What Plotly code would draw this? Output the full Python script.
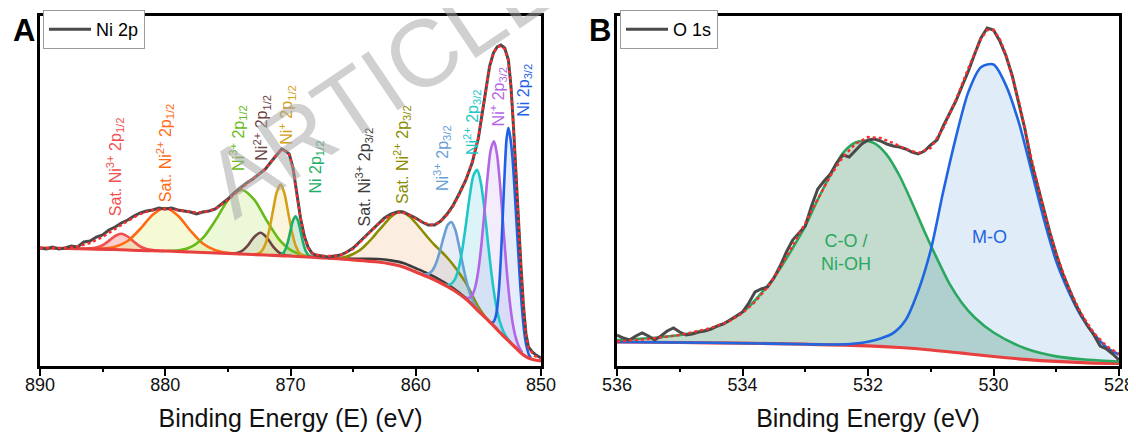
import numpy as np
import plotly.graph_objects as go

FONT = "Arial, 'Liberation Sans', Helvetica, sans-serif"

# ---------------- Panel A : Ni 2p (binding energy eV, intensity a.u.) ----------------
ni_bg_e = [890, 888, 886, 884, 882, 880, 878, 876, 874, 872, 870, 868, 866, 864, 863, 862, 861,
           860, 859, 858, 857, 856, 855, 854, 853, 852.5, 852, 851.5, 851, 850.5, 850]
ni_bg_i = [118, 117.5, 117, 116.5, 115.5, 115, 114, 113, 112, 111, 110, 108.5, 107, 105, 104, 102, 99,
           94, 89, 83, 76, 67, 55, 43, 30, 24, 18, 12, 8, 6, 5]

ni_data_e = [890, 889.5, 889, 888.5, 888, 887.5, 887, 886.5, 886, 885.5, 885, 884.5, 884, 883.5, 883,
             882.5, 882, 881.5, 881, 880.5, 880, 879.5, 879, 878.5, 878, 877.5, 877, 876.5, 876, 875.5,
             875, 874.5, 874, 873.5, 873, 872.5, 872, 871.5, 871, 870.7, 870.4, 870.1, 869.8, 869.5,
             869.2, 868.9, 868.6, 868.3, 868, 867.5, 867, 866.5, 866, 865.5, 865, 864.5, 864, 863.5,
             863, 862.5, 862, 861.5, 861, 860.5, 860, 859.5, 859, 858.5, 858, 857.5, 857, 856.5, 856,
             855.5, 855, 854.7, 854.4, 854.1, 853.8, 853.5, 853.2, 852.9, 852.6, 852.4, 852.2, 852.0,
             851.8, 851.6, 851.4, 851.2, 851.0, 850.7, 850.4, 850]
ni_data_i = [118, 117, 119, 117, 118, 120, 119, 124, 125, 129, 131, 136, 139, 143, 146,
             150, 153, 155, 156, 158, 157, 158, 156, 155, 154, 152, 154, 155, 157, 162,
             167, 173, 178, 183, 187, 192, 197, 205, 213, 217, 215, 212, 198, 172,
             148, 130, 119, 113, 111, 110, 109, 110, 111, 114, 118, 124, 130, 136,
             143, 148, 152, 154, 154, 151, 148, 144, 141, 141, 145, 152, 161, 173, 186,
             203, 228, 252, 277, 300, 313, 319, 321, 318, 306, 280, 240, 190,
             148, 100, 60, 32, 19, 14, 11, 8]

ni_fit_e = [890, 888, 887, 886, 885, 884, 883, 882, 881, 880, 879, 878, 877, 876, 875, 874, 873, 872,
            871.5, 871, 870.7, 870.4, 870.1, 869.8, 869.5, 869.2, 868.9, 868.6, 868.2, 867.5, 866.5,
            866, 865, 864, 863, 862, 861.2, 860.5, 859.5, 858.8, 858.2, 857.5, 857, 856.5, 856,
            855.5, 855, 854.7, 854.4, 854.1, 853.8, 853.5, 853.2, 852.9, 852.6, 852.4, 852.2, 852.0,
            851.8, 851.6, 851.4, 851.2, 851.0, 850.5, 850]
ni_fit_i = [118, 118, 119.5, 123, 129, 137, 145, 152, 156, 157, 156, 154, 153.5, 157, 166, 177, 187, 197,
            205, 213, 216, 215, 211, 198, 172, 148, 130, 118, 112, 110, 110,
            111, 117, 129, 142, 151, 154, 151, 144, 141, 143, 151, 160, 172, 186,
            204, 228, 252, 277, 299, 313, 319, 320, 317, 305, 280, 240, 190,
            145, 98, 58, 32, 18, 10, 7]

# fitted components: energies and heights above the background
sat3_12_e = [887, 886, 885.5, 885, 884.5, 884, 883.5, 883, 882.5, 882, 881.5, 881, 880]
sat3_12_h = [0, 0.6, 1.6, 4, 8.5, 13.5, 16, 13.5, 8.5, 4, 1.6, 0.6, 0]
sat2_12_e = [886, 885, 884, 883, 882, 881, 880, 879, 878, 877, 876, 875, 874]
sat2_12_h = [0, 0.6, 2.7, 9, 21.5, 36, 43, 36, 21.5, 9, 2.7, 0.6, 0]
ni3_12_e = [879.9, 878.9, 877.9, 876.9, 875.9, 874.9, 873.9, 872.9, 871.9, 870.9, 869.9, 868.9, 867.9]
ni3_12_h = [0.3, 1.3, 5.4, 16, 34.5, 55, 64, 55, 34.5, 16, 5.4, 1.3, 0.3]
ni2_12_e = [874.9, 874.4, 873.9, 873.4, 872.9, 872.4, 871.9, 871.4, 870.9, 870.4, 869.9]
ni2_12_h = [0, 0.6, 3, 9, 17.6, 22, 17.6, 9, 3, 0.6, 0]
ni1_12_e = [872.9, 872.6, 872.3, 872.0, 871.7, 871.4, 871.1, 870.8, 870.5, 870.2, 869.9, 869.6, 869.3, 869.0, 868.7]
ni1_12_h = [0.2, 1, 3.8, 11, 25, 44.5, 63, 71, 63, 44.5, 25, 11, 3.8, 1, 0.2]
ni0_12_e = [871.0, 870.8, 870.6, 870.4, 870.2, 870.0, 869.8, 869.6, 869.4, 869.2, 869.0, 868.8, 868.6, 868.4, 868.2]
ni0_12_h = [0.2, 0.7, 2.4, 6.5, 14.4, 25.4, 35.7, 40, 35.7, 25.4, 14.4, 6.5, 2.4, 0.7, 0.2]
sat3_32_e = [867, 866, 865, 864, 863, 862, 861, 860, 859, 858, 857, 856, 855]
sat3_32_h = [0, 0.6, 1.3, 2.2, 3, 3.6, 4, 3.8, 3.3, 2.6, 1.8, 0.9, 0]
sat2_32_e = [866.5, 866, 865.5, 865, 864.5, 864, 863.5, 863, 862.5, 862, 861.5, 861.2, 860.5, 860, 859.5,
             859, 858.5, 858, 857.5, 857, 856.5, 856, 855.5, 855, 854.5, 854]
sat2_32_h = [0, 1, 3, 6, 10, 16, 23, 31, 39, 47, 53, 55, 53, 49, 44,
             39, 35, 32, 29, 25, 21, 16, 10, 4, 1, 0]
ni3_32_e = [859.55, 859.25, 858.95, 858.65, 858.35, 858.05, 857.75, 857.45, 857.15, 856.85, 856.55,
            856.25, 855.95, 855.65, 855.35, 855.05, 854.75]
ni3_32_h = [0.4, 1.3, 3.8, 9, 18.6, 32.6, 48.6, 61.8, 67, 61.8, 48.6, 32.6, 18.6, 9, 3.8, 1.3, 0.4]
ni2_32_e = [857.8, 857.5, 857.2, 856.9, 856.6, 856.3, 856.0, 855.7, 855.4, 855.1, 854.8, 854.5, 854.2,
            853.9, 853.6, 853.3, 853.0, 852.7, 852.4]
ni2_32_h = [0.4, 1.5, 4.5, 11, 24, 45.5, 74, 105.7, 130.5, 140, 130.5, 105.7, 74, 45.5, 24, 11, 4.5, 1.5, 0.4]
ni1_32_e = [856.0, 855.75, 855.5, 855.25, 855.0, 854.75, 854.5, 854.25, 854.0, 853.75, 853.5, 853.25,
            853.0, 852.75, 852.5, 852.25, 852.0, 851.75, 851.5]
ni1_32_h = [1.4, 3.9, 9.6, 21, 41, 70.5, 107.5, 145.4, 174, 185, 174, 145.4, 107.5, 70.5, 41, 21, 9.6, 3.9, 1.4]
ni0_32_e = [853.95, 853.8, 853.65, 853.5, 853.35, 853.2, 853.05, 852.9, 852.75, 852.6, 852.45, 852.3,
            852.15, 852.0, 851.85, 851.7, 851.55, 851.4, 851.25, 851.1, 850.95, 850.8]
ni0_32_h = [1.3, 3.6, 9.4, 21.3, 43.2, 76.7, 120, 165, 200, 213, 205, 190,
            165, 135, 105, 75, 50, 30, 16, 8, 3, 1]

# ---------------- Panel B : O 1s ----------------
o_bg_e = [536, 535, 534, 533, 532, 531.5, 531, 530.5, 530, 529.5, 529, 528.5, 528]
o_bg_i = [24, 23.5, 22.8, 21.8, 20.2, 18.5, 16, 12.8, 9.5, 6.7, 4.6, 3.2, 2.5]

o_data_e = [536.0, 535.9, 535.8, 535.7, 535.6, 535.5, 535.4, 535.3, 535.2, 535.1, 535.0, 534.9, 534.8,
            534.7, 534.6, 534.5, 534.4, 534.3, 534.2, 534.1, 534.0, 533.9, 533.8, 533.7, 533.6, 533.5,
            533.4, 533.3, 533.2, 533.1, 533.0, 532.9, 532.8, 532.7, 532.6, 532.5, 532.4, 532.3, 532.2,
            532.1, 532.0, 531.9, 531.8, 531.7, 531.6, 531.5, 531.4, 531.3, 531.2, 531.1, 531.0, 530.9,
            530.8, 530.7, 530.6, 530.5, 530.4, 530.3, 530.2, 530.1, 530.0, 529.9, 529.8, 529.7, 529.6,
            529.5, 529.4, 529.3, 529.2, 529.1, 529.0, 528.9, 528.8, 528.7, 528.6, 528.5, 528.4, 528.3,
            528.2, 528.1, 528.0]
o_data_i = [31, 28, 26, 30, 33, 30, 26, 30, 35, 38, 34, 31, 32,
            34, 35, 37, 40, 42, 46, 50, 54, 63, 74, 77, 79, 88,
            100, 114, 126, 133, 140, 160, 177, 185, 192, 203, 211, 209, 216,
            222, 226, 227, 225, 222, 220, 219, 217, 214, 212, 215, 221, 226,
            240, 253, 265, 280, 295, 312, 328, 338, 336, 325, 310, 290, 265,
            237, 205, 180, 157, 133, 112, 93, 78, 63, 51, 40, 31, 20,
            17, 12, 6]

o_fit_e = [536, 535.5, 535, 534.5, 534.2, 534.0, 533.8, 533.6, 533.4, 533.2, 533.0, 532.8, 532.6, 532.4,
           532.2, 532.0, 531.8, 531.6, 531.4, 531.2, 531.0, 530.8, 530.6, 530.4, 530.2, 530.1, 530.0,
           529.9, 529.8, 529.6, 529.4, 529.2, 529.0, 528.8, 528.6, 528.4, 528.2, 528.0]
o_fit_i = [24.5, 27, 31, 38, 45, 53, 64, 79, 98, 120, 143, 167, 190, 209,
           222, 229, 228, 223, 217, 213, 218, 238, 266, 298, 327, 336, 336,
           327, 311, 266, 209, 156, 112, 78, 52, 33, 20, 12]

o_oh_e = [536, 535.5, 535, 534.5, 534, 533.5, 533.2, 533, 532.8, 532.6, 532.4, 532.2, 532.05, 531.9,
          531.7, 531.5, 531.3, 531.1, 530.9, 530.7, 530.5, 530.3, 530, 529.5, 529, 528.5, 528]
o_oh_h = [2, 4, 7.5, 14, 31, 66, 96, 118, 145, 170, 192, 203, 205, 203,
          192, 172, 146, 118, 92, 68, 50, 37, 24, 11, 5, 3, 2]
o_mo_e = [536, 535, 534, 533, 532.5, 532.2, 532.0, 531.8, 531.6, 531.4, 531.2, 531.0, 530.8, 530.6,
          530.4, 530.2, 530.0, 529.8, 529.6, 529.4, 529.2, 529.0, 528.8, 528.6, 528.4, 528.2, 528.0]
o_mo_h = [0, 0, 0, 0, 0.5, 2, 4, 8, 14, 28, 58, 100, 160, 215,
          262, 288, 292, 272, 237, 190, 142, 100, 70, 46, 29, 16, 9]

# ---------------- styles ----------------
ni_components = [
    # (energies, heights, line colour, fill colour, label, label_e, label_i)
    (sat3_12_e, sat3_12_h, "#f0504f", "rgba(240,80,80,0.28)", "Sat. Ni<sup>3+</sup> 2p<sub>1/2</sub>", 884.0, 199),
    (sat2_12_e, sat2_12_h, "#ff6a13", "rgba(225,240,120,0.32)", "Sat. Ni<sup>2+</sup> 2p<sub>1/2</sub>", 880.0, 213),
    (ni3_12_e, ni3_12_h, "#67bb18", "rgba(175,225,80,0.22)", "Ni<sup>3+</sup> 2p<sub>1/2</sub>", 874.2, 228),
    (ni2_12_e, ni2_12_h, "#6e4444", "rgba(110,70,70,0.10)", "Ni<sup>2+</sup> 2p<sub>1/2</sub>", 872.3, 238),
    (ni1_12_e, ni1_12_h, "#d4a017", "rgba(230,200,60,0.18)", "Ni<sup>+</sup> 2p<sub>1/2</sub>", 870.3, 251),
    (ni0_12_e, ni0_12_h, "#1fae6a", "rgba(40,170,110,0.22)", "Ni 2p<sub>1/2</sub>", 868.0, 199),
    (sat3_32_e, sat3_32_h, "#3c3c3c", "rgba(120,120,120,0.15)", "Sat. Ni<sup>3+</sup> 2p<sub>3/2</sub>", 864.1, 189),
    (sat2_32_e, sat2_32_h, "#8c8c00", "rgba(235,170,100,0.20)", "Sat. Ni<sup>2+</sup> 2p<sub>3/2</sub>", 861.1, 212),
    (ni3_32_e, ni3_32_h, "#6a9fd4", "rgba(110,150,210,0.16)", "Ni<sup>3+</sup> 2p<sub>3/2</sub>", 857.9, 208),
    (ni2_32_e, ni2_32_h, "#1ec6c8", "rgba(40,180,210,0.16)", "Ni<sup>2+</sup> 2p<sub>3/2</sub>", 855.5, 244),
    (ni1_32_e, ni1_32_h, "#b266e6", "rgba(170,120,225,0.14)", "Ni<sup>+</sup> 2p<sub>3/2</sub>", 853.4, 269),
    (ni0_32_e, ni0_32_h, "#1f5fe6", "rgba(40,110,225,0.12)", "Ni 2p<sub>3/2</sub>", 851.3, 276),
]
o_components = [
    (o_oh_e, o_oh_h, "#2aa860", "rgba(60,140,90,0.30)"),
    (o_mo_e, o_mo_h, "#1f66e0", "rgba(100,160,220,0.20)"),
]

BG_RED = "#e8403f"
DATA_GREY = "#4a4a4a"
FIT_RED = "#ff2a2a"


def bg_at(e, bg_e, bg_i):
    return np.interp(e, bg_e[::-1], bg_i[::-1])


fig = go.Figure()


def add_panel(comps, bg_e, bg_i, data_e, data_i, fit_e, fit_i, xa, ya, name, legend, bg_on_top):
    for c in comps:
        e, h, lc, fc = c[0], c[1], c[2], c[3]
        e = np.array(e, float)
        top = bg_at(e, bg_e, bg_i) + np.array(h, float)
        base = bg_at(e[::-1], bg_e, bg_i)
        fig.add_trace(go.Scatter(x=list(e) + list(e[::-1]), y=list(top) + list(base), fill="toself",
                                 fillcolor=fc, line=dict(width=0), mode="lines", hoverinfo="skip",
                                 showlegend=False, xaxis=xa, yaxis=ya))
    bg_trace = go.Scatter(x=bg_e, y=bg_i, mode="lines", line=dict(color=BG_RED, width=3.2, shape="spline"),
                          showlegend=False, xaxis=xa, yaxis=ya)
    if not bg_on_top:
        fig.add_trace(bg_trace)
    for c in comps:
        e, h, lc = c[0], c[1], c[2]
        e = np.array(e, float)
        top = bg_at(e, bg_e, bg_i) + np.array(h, float)
        fig.add_trace(go.Scatter(x=e, y=top, mode="lines", line=dict(color=lc, width=2.6, shape="spline", smoothing=0.8),
                                 showlegend=False, xaxis=xa, yaxis=ya))
    if bg_on_top:
        fig.add_trace(bg_trace)
    fig.add_trace(go.Scatter(x=data_e, y=data_i, mode="lines", name=name, line=dict(color=DATA_GREY, width=3),
                             showlegend=True, legend=legend, xaxis=xa, yaxis=ya))
    fig.add_trace(go.Scatter(x=fit_e, y=fit_i, mode="lines", line=dict(color=FIT_RED, width=2.4, dash="dot"),
                             showlegend=False, xaxis=xa, yaxis=ya))


add_panel(ni_components, ni_bg_e, ni_bg_i, ni_data_e, ni_data_i, ni_fit_e, ni_fit_i, "x", "y", "Ni 2p", "legend", True)
add_panel(o_components, o_bg_e, o_bg_i, o_data_e, o_data_i, o_fit_e, o_fit_i, "x2", "y2", "O 1s", "legend2", False)

# page offset of the figure inside the html body (default body margin)
OFF = 8
W, H = 1128, 425


def px(x):
    return (x - OFF) / W


def py(y):
    return 1 - (y - OFF) / H


ydom = [py(366), py(16)]

axis_common = dict(showline=True, linecolor="black", linewidth=2.6, mirror=True, ticks="outside",
                   ticklen=7, tickwidth=2, tickcolor="black", showgrid=False, zeroline=False,
                   ticklabelstandoff=-6,
                   tickfont=dict(size=18, color="#111", family=FONT),
                   title_font=dict(size=25, color="#111", family=FONT), automargin=False)
yaxis_common = dict(showline=True, linecolor="black", linewidth=2.6, mirror=True, ticks="",
                    showticklabels=False, showgrid=False, zeroline=False, range=[0, 350], automargin=False)

annotations = []
for c in ni_components:
    annotations.append(dict(x=c[5], y=c[6], xref="x", yref="y", text=c[4], textangle=-90, showarrow=False,
                            font=dict(size=16, color=c[2], family=FONT), xanchor="center", yanchor="middle"))
annotations += [
    dict(x=532.35, y=114, xref="x2", yref="y2", text="C-O /<br>Ni-OH", showarrow=False,
         font=dict(size=18, color="#2aa860", family=FONT)),
    dict(x=530.06, y=129, xref="x2", yref="y2", text="M-O", showarrow=False,
         font=dict(size=18, color="#1f66e0", family=FONT)),
    dict(x=px(23.5), y=py(31), xref="paper", yref="paper", text="<b>A</b>", showarrow=False,
         font=dict(size=31, color="black", family=FONT), xanchor="center", yanchor="middle"),
    dict(x=px(599.5), y=py(31), xref="paper", yref="paper", text="<b>B</b>", showarrow=False,
         font=dict(size=31, color="black", family=FONT), xanchor="center", yanchor="middle"),
    dict(x=px(381), y=py(82), xref="paper", yref="paper", text="ARTICLE", showarrow=False, textangle=-34,
         font=dict(size=95, color="rgba(165,165,165,0.52)", family=FONT), xanchor="center", yanchor="middle"),
]

legend_common = dict(xanchor="left", yanchor="top", bordercolor="#9a9a9a", borderwidth=1, bgcolor="white",
                     font=dict(size=18, color="black", family=FONT), tracegroupgap=0, itemwidth=42)

fig.update_layout(
    width=W, height=H, margin=dict(l=0, r=0, t=0, b=0),
    paper_bgcolor="white", plot_bgcolor="white",
    font=dict(family=FONT),
    xaxis=dict(domain=[px(40), px(541)], range=[890, 850], tickvals=[890, 880, 870, 860, 850],
               minor=dict(tickvals=[885, 875, 865, 855], ticks="outside", ticklen=3.5, tickwidth=1.5, tickcolor="black"),
               title=dict(text="Binding Energy (E) (eV)", standoff=16), anchor="y", **axis_common),
    yaxis=dict(domain=ydom, anchor="x", **yaxis_common),
    xaxis2=dict(domain=[px(617), px(1119)], range=[536, 528], tickvals=[536, 534, 532, 530, 528],
                minor=dict(tickvals=[535, 533, 531, 529], ticks="outside", ticklen=3.5, tickwidth=1.5, tickcolor="black"),
                title=dict(text="Binding Energy (eV)", standoff=16), anchor="y2", **axis_common),
    yaxis2=dict(domain=ydom, anchor="x2", **yaxis_common),
    legend=dict(x=px(43), y=py(10), **legend_common),
    legend2=dict(x=px(620), y=py(10), **legend_common),
    annotations=annotations,
    showlegend=True,
)

fig.write_html("out.html")
